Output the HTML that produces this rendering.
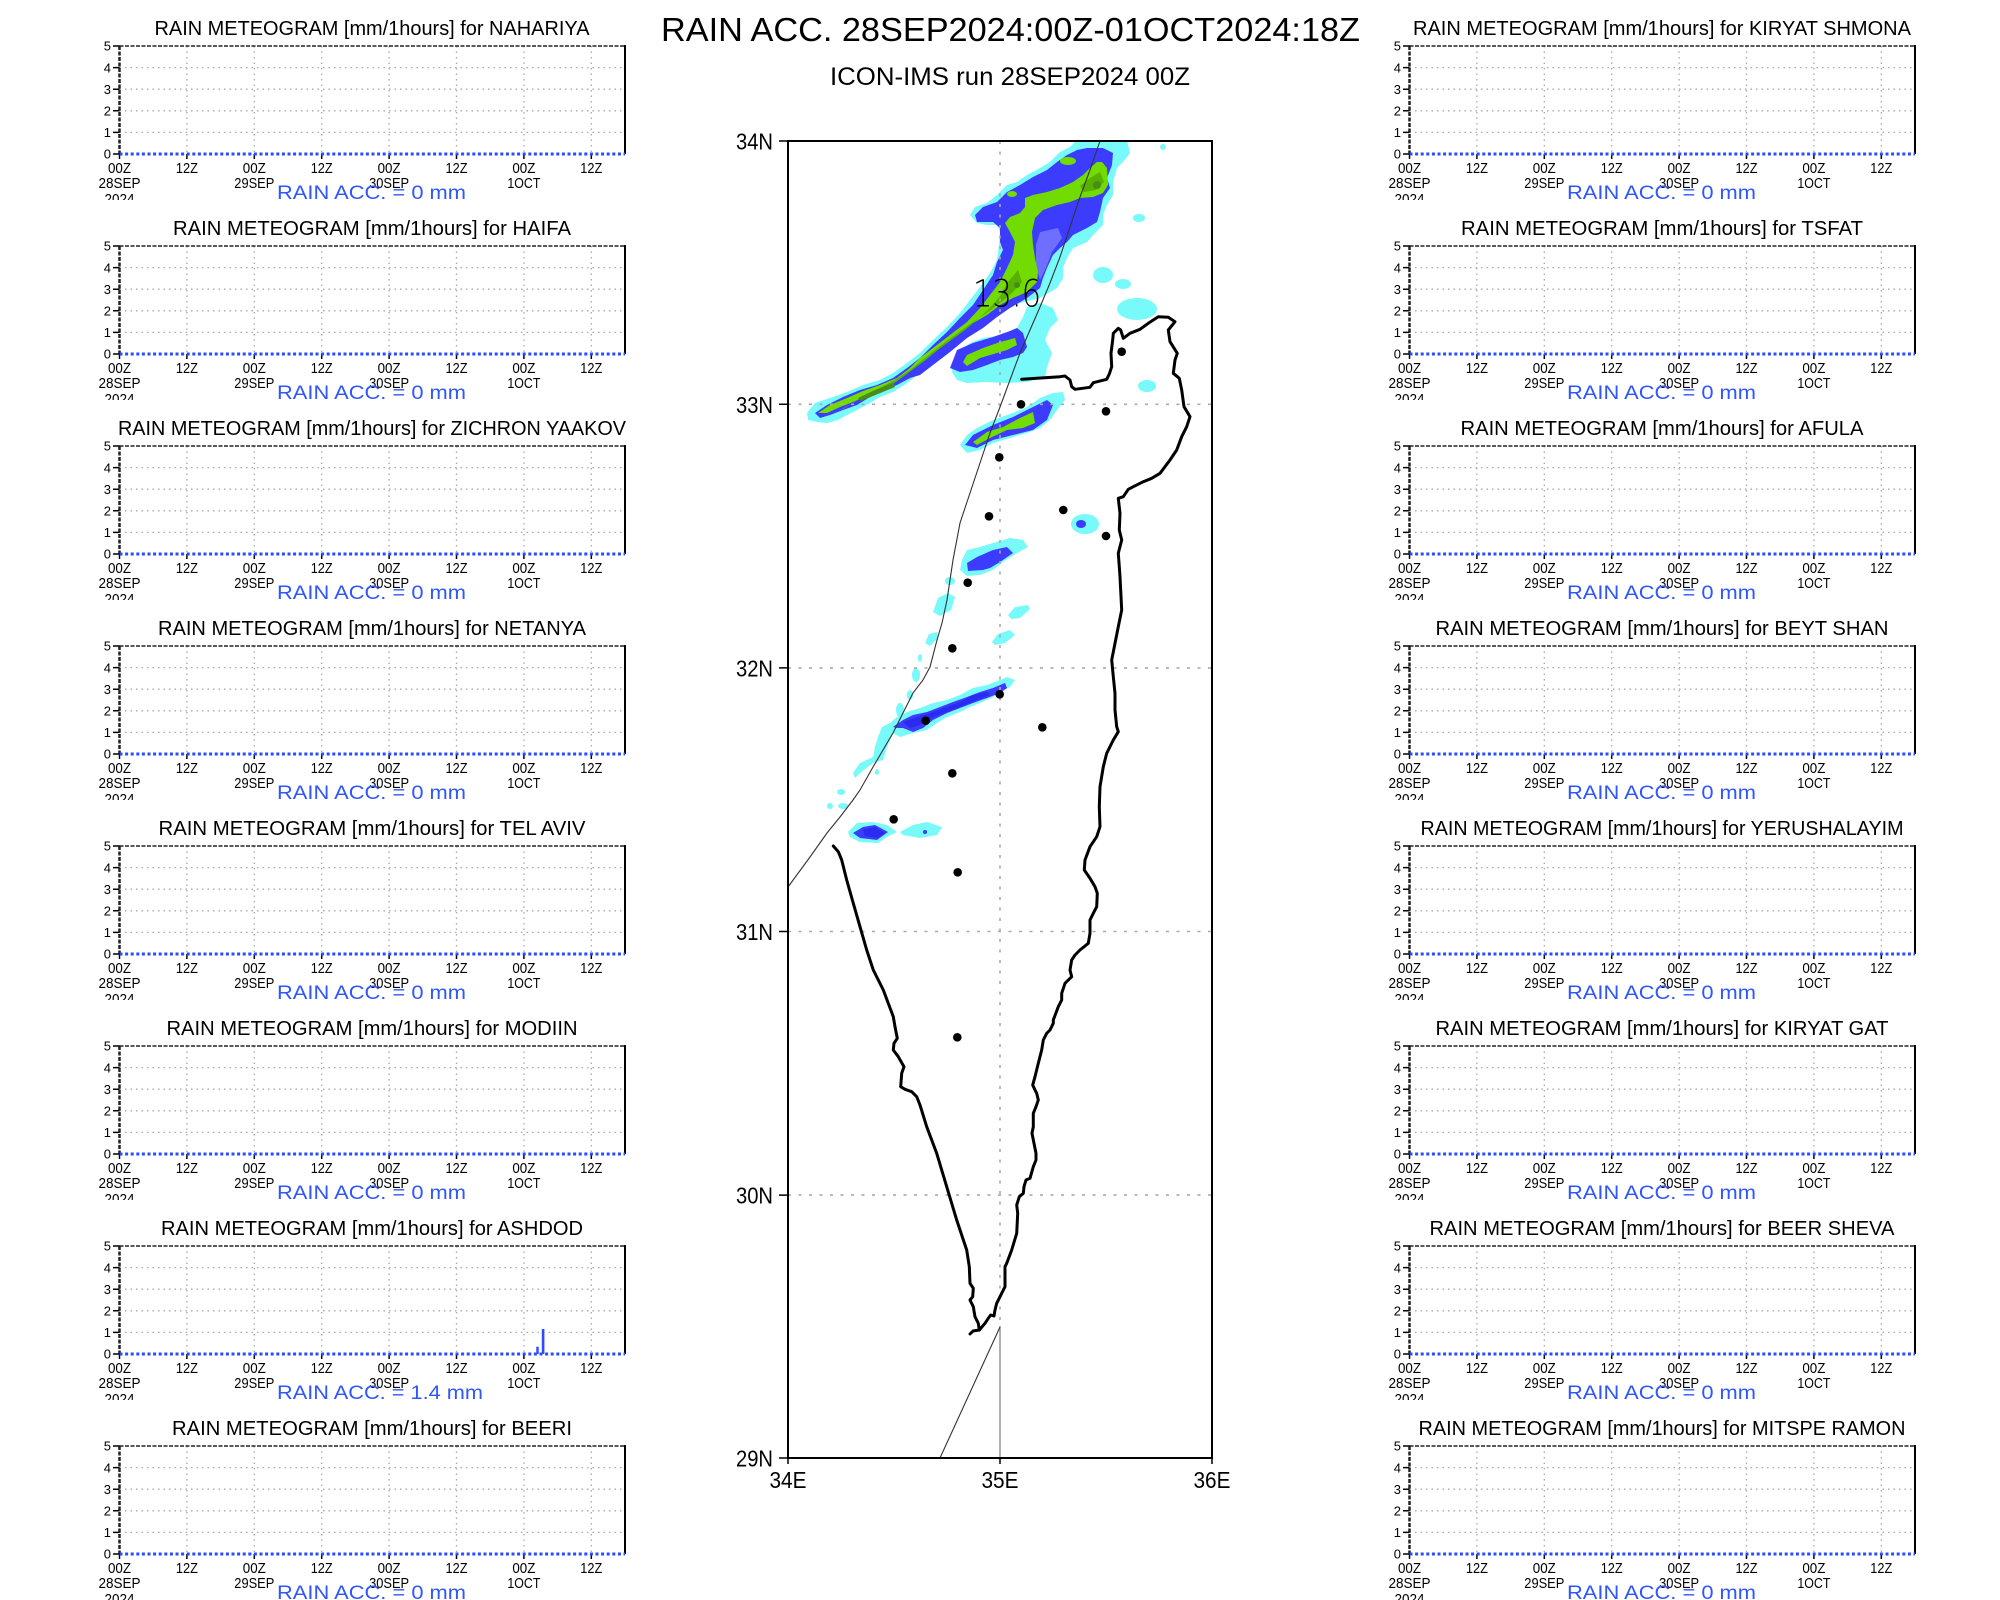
<!DOCTYPE html>
<html><head><meta charset="utf-8">
<style>
html,body{margin:0;padding:0;background:#fff;}
svg{display:block;}
text{font-family:"Liberation Sans",sans-serif;}
.tt{font-size:20px;text-anchor:middle;fill:#000;}
.yl{font-size:13px;text-anchor:end;fill:#000;}
.xl{font-size:15px;text-anchor:middle;fill:#000;}
.bl{font-size:19px;fill:#2f55ff;}
.ml{font-size:23px;fill:#000;}
</style></head><body>
<svg width="2000" height="1600" viewBox="0 0 2000 1600" xmlns="http://www.w3.org/2000/svg">
<defs>
<clipPath id="cp" clipPathUnits="userSpaceOnUse"><rect x="0" y="0" width="2000" height="200"/></clipPath>
<clipPath id="mapclip"><rect x="788" y="141" width="424" height="1317"/></clipPath>
<g id="pg">
 <g stroke="#aaa" stroke-width="1.3" stroke-dasharray="1.5,4" fill="none">
  <path d="M186.9 46V154M254.3 46V154M321.7 46V154M389.1 46V154M456.5 46V154M523.9 46V154M591.3 46V154"/>
  <path d="M119.5 132.4H625M119.5 110.8H625M119.5 89.2H625M119.5 67.6H625"/>
 </g>
 <path d="M119.5 46H625" stroke="#222" stroke-width="1.6" stroke-dasharray="4,1.5" fill="none"/>
 <path d="M119.5 46V154" stroke="#222" stroke-width="2.5" stroke-dasharray="4,1.5" fill="none"/>
 <path d="M625 45V154" stroke="#000" stroke-width="2" fill="none"/>
 <path d="M113 154H119.5M113 132.4H119.5M113 110.8H119.5M113 89.2H119.5M113 67.6H119.5M113 46H119.5" stroke="#000" stroke-width="1.5"/>
 <path d="M119.5 154V159M186.9 154V159M254.3 154V159M321.7 154V159M389.1 154V159M456.5 154V159M523.9 154V159M591.3 154V159" stroke="#000" stroke-width="1.5"/>
 <path d="M119.5 154H625" stroke="#2a4bff" stroke-width="3" stroke-dasharray="3,2.6" fill="none"/>
</g>
</defs>
<rect width="2000" height="1600" fill="#fff"/>

<!-- ================= LEFT PANELS ================= -->
<g transform="translate(0,0)">
<use href="#pg"/>
<text class="tt" x="372" y="35" textLength="435" lengthAdjust="spacingAndGlyphs">RAIN METEOGRAM [mm/1hours] for NAHARIYA</text>
<text class="yl" x="111" y="50.7">5</text><text class="yl" x="111" y="72.3">4</text><text class="yl" x="111" y="93.9">3</text><text class="yl" x="111" y="115.5">2</text><text class="yl" x="111" y="137.1">1</text><text class="yl" x="111" y="158.7">0</text>
<text class="xl" x="119.5" y="173" textLength="23" lengthAdjust="spacingAndGlyphs">00Z</text><text class="xl" x="186.9" y="173" textLength="22" lengthAdjust="spacingAndGlyphs">12Z</text><text class="xl" x="254.3" y="173" textLength="23" lengthAdjust="spacingAndGlyphs">00Z</text><text class="xl" x="321.7" y="173" textLength="22" lengthAdjust="spacingAndGlyphs">12Z</text><text class="xl" x="389.1" y="173" textLength="23" lengthAdjust="spacingAndGlyphs">00Z</text><text class="xl" x="456.5" y="173" textLength="22" lengthAdjust="spacingAndGlyphs">12Z</text><text class="xl" x="523.9" y="173" textLength="23" lengthAdjust="spacingAndGlyphs">00Z</text><text class="xl" x="591.3" y="173" textLength="22" lengthAdjust="spacingAndGlyphs">12Z</text>
<text class="xl" x="119.5" y="188" textLength="42" lengthAdjust="spacingAndGlyphs">28SEP</text><text class="xl" x="254.3" y="188" textLength="40" lengthAdjust="spacingAndGlyphs">29SEP</text><text class="xl" x="389.1" y="188" textLength="40" lengthAdjust="spacingAndGlyphs">30SEP</text><text class="xl" x="523.9" y="188" textLength="33" lengthAdjust="spacingAndGlyphs">1OCT</text>
<text class="xl" x="119.5" y="204" textLength="30" lengthAdjust="spacingAndGlyphs" clip-path="url(#cp)">2024</text>
<text class="bl" x="277" y="199" textLength="189" lengthAdjust="spacingAndGlyphs">RAIN ACC. = 0 mm</text>
</g>

<g transform="translate(0,200)">
<use href="#pg"/>
<text class="tt" x="372" y="35" textLength="398" lengthAdjust="spacingAndGlyphs">RAIN METEOGRAM [mm/1hours] for HAIFA</text>
<text class="yl" x="111" y="50.7">5</text><text class="yl" x="111" y="72.3">4</text><text class="yl" x="111" y="93.9">3</text><text class="yl" x="111" y="115.5">2</text><text class="yl" x="111" y="137.1">1</text><text class="yl" x="111" y="158.7">0</text>
<text class="xl" x="119.5" y="173" textLength="23" lengthAdjust="spacingAndGlyphs">00Z</text><text class="xl" x="186.9" y="173" textLength="22" lengthAdjust="spacingAndGlyphs">12Z</text><text class="xl" x="254.3" y="173" textLength="23" lengthAdjust="spacingAndGlyphs">00Z</text><text class="xl" x="321.7" y="173" textLength="22" lengthAdjust="spacingAndGlyphs">12Z</text><text class="xl" x="389.1" y="173" textLength="23" lengthAdjust="spacingAndGlyphs">00Z</text><text class="xl" x="456.5" y="173" textLength="22" lengthAdjust="spacingAndGlyphs">12Z</text><text class="xl" x="523.9" y="173" textLength="23" lengthAdjust="spacingAndGlyphs">00Z</text><text class="xl" x="591.3" y="173" textLength="22" lengthAdjust="spacingAndGlyphs">12Z</text>
<text class="xl" x="119.5" y="188" textLength="42" lengthAdjust="spacingAndGlyphs">28SEP</text><text class="xl" x="254.3" y="188" textLength="40" lengthAdjust="spacingAndGlyphs">29SEP</text><text class="xl" x="389.1" y="188" textLength="40" lengthAdjust="spacingAndGlyphs">30SEP</text><text class="xl" x="523.9" y="188" textLength="33" lengthAdjust="spacingAndGlyphs">1OCT</text>
<text class="xl" x="119.5" y="204" textLength="30" lengthAdjust="spacingAndGlyphs" clip-path="url(#cp)">2024</text>
<text class="bl" x="277" y="199" textLength="189" lengthAdjust="spacingAndGlyphs">RAIN ACC. = 0 mm</text>
</g>

<g transform="translate(0,400)">
<use href="#pg"/>
<text class="tt" x="372" y="35" textLength="508" lengthAdjust="spacingAndGlyphs">RAIN METEOGRAM [mm/1hours] for ZICHRON YAAKOV</text>
<text class="yl" x="111" y="50.7">5</text><text class="yl" x="111" y="72.3">4</text><text class="yl" x="111" y="93.9">3</text><text class="yl" x="111" y="115.5">2</text><text class="yl" x="111" y="137.1">1</text><text class="yl" x="111" y="158.7">0</text>
<text class="xl" x="119.5" y="173" textLength="23" lengthAdjust="spacingAndGlyphs">00Z</text><text class="xl" x="186.9" y="173" textLength="22" lengthAdjust="spacingAndGlyphs">12Z</text><text class="xl" x="254.3" y="173" textLength="23" lengthAdjust="spacingAndGlyphs">00Z</text><text class="xl" x="321.7" y="173" textLength="22" lengthAdjust="spacingAndGlyphs">12Z</text><text class="xl" x="389.1" y="173" textLength="23" lengthAdjust="spacingAndGlyphs">00Z</text><text class="xl" x="456.5" y="173" textLength="22" lengthAdjust="spacingAndGlyphs">12Z</text><text class="xl" x="523.9" y="173" textLength="23" lengthAdjust="spacingAndGlyphs">00Z</text><text class="xl" x="591.3" y="173" textLength="22" lengthAdjust="spacingAndGlyphs">12Z</text>
<text class="xl" x="119.5" y="188" textLength="42" lengthAdjust="spacingAndGlyphs">28SEP</text><text class="xl" x="254.3" y="188" textLength="40" lengthAdjust="spacingAndGlyphs">29SEP</text><text class="xl" x="389.1" y="188" textLength="40" lengthAdjust="spacingAndGlyphs">30SEP</text><text class="xl" x="523.9" y="188" textLength="33" lengthAdjust="spacingAndGlyphs">1OCT</text>
<text class="xl" x="119.5" y="204" textLength="30" lengthAdjust="spacingAndGlyphs" clip-path="url(#cp)">2024</text>
<text class="bl" x="277" y="199" textLength="189" lengthAdjust="spacingAndGlyphs">RAIN ACC. = 0 mm</text>
</g>

<g transform="translate(0,600)">
<use href="#pg"/>
<text class="tt" x="372" y="35" textLength="428" lengthAdjust="spacingAndGlyphs">RAIN METEOGRAM [mm/1hours] for NETANYA</text>
<text class="yl" x="111" y="50.7">5</text><text class="yl" x="111" y="72.3">4</text><text class="yl" x="111" y="93.9">3</text><text class="yl" x="111" y="115.5">2</text><text class="yl" x="111" y="137.1">1</text><text class="yl" x="111" y="158.7">0</text>
<text class="xl" x="119.5" y="173" textLength="23" lengthAdjust="spacingAndGlyphs">00Z</text><text class="xl" x="186.9" y="173" textLength="22" lengthAdjust="spacingAndGlyphs">12Z</text><text class="xl" x="254.3" y="173" textLength="23" lengthAdjust="spacingAndGlyphs">00Z</text><text class="xl" x="321.7" y="173" textLength="22" lengthAdjust="spacingAndGlyphs">12Z</text><text class="xl" x="389.1" y="173" textLength="23" lengthAdjust="spacingAndGlyphs">00Z</text><text class="xl" x="456.5" y="173" textLength="22" lengthAdjust="spacingAndGlyphs">12Z</text><text class="xl" x="523.9" y="173" textLength="23" lengthAdjust="spacingAndGlyphs">00Z</text><text class="xl" x="591.3" y="173" textLength="22" lengthAdjust="spacingAndGlyphs">12Z</text>
<text class="xl" x="119.5" y="188" textLength="42" lengthAdjust="spacingAndGlyphs">28SEP</text><text class="xl" x="254.3" y="188" textLength="40" lengthAdjust="spacingAndGlyphs">29SEP</text><text class="xl" x="389.1" y="188" textLength="40" lengthAdjust="spacingAndGlyphs">30SEP</text><text class="xl" x="523.9" y="188" textLength="33" lengthAdjust="spacingAndGlyphs">1OCT</text>
<text class="xl" x="119.5" y="204" textLength="30" lengthAdjust="spacingAndGlyphs" clip-path="url(#cp)">2024</text>
<text class="bl" x="277" y="199" textLength="189" lengthAdjust="spacingAndGlyphs">RAIN ACC. = 0 mm</text>
</g>

<g transform="translate(0,800)">
<use href="#pg"/>
<text class="tt" x="372" y="35" textLength="427" lengthAdjust="spacingAndGlyphs">RAIN METEOGRAM [mm/1hours] for TEL AVIV</text>
<text class="yl" x="111" y="50.7">5</text><text class="yl" x="111" y="72.3">4</text><text class="yl" x="111" y="93.9">3</text><text class="yl" x="111" y="115.5">2</text><text class="yl" x="111" y="137.1">1</text><text class="yl" x="111" y="158.7">0</text>
<text class="xl" x="119.5" y="173" textLength="23" lengthAdjust="spacingAndGlyphs">00Z</text><text class="xl" x="186.9" y="173" textLength="22" lengthAdjust="spacingAndGlyphs">12Z</text><text class="xl" x="254.3" y="173" textLength="23" lengthAdjust="spacingAndGlyphs">00Z</text><text class="xl" x="321.7" y="173" textLength="22" lengthAdjust="spacingAndGlyphs">12Z</text><text class="xl" x="389.1" y="173" textLength="23" lengthAdjust="spacingAndGlyphs">00Z</text><text class="xl" x="456.5" y="173" textLength="22" lengthAdjust="spacingAndGlyphs">12Z</text><text class="xl" x="523.9" y="173" textLength="23" lengthAdjust="spacingAndGlyphs">00Z</text><text class="xl" x="591.3" y="173" textLength="22" lengthAdjust="spacingAndGlyphs">12Z</text>
<text class="xl" x="119.5" y="188" textLength="42" lengthAdjust="spacingAndGlyphs">28SEP</text><text class="xl" x="254.3" y="188" textLength="40" lengthAdjust="spacingAndGlyphs">29SEP</text><text class="xl" x="389.1" y="188" textLength="40" lengthAdjust="spacingAndGlyphs">30SEP</text><text class="xl" x="523.9" y="188" textLength="33" lengthAdjust="spacingAndGlyphs">1OCT</text>
<text class="xl" x="119.5" y="204" textLength="30" lengthAdjust="spacingAndGlyphs" clip-path="url(#cp)">2024</text>
<text class="bl" x="277" y="199" textLength="189" lengthAdjust="spacingAndGlyphs">RAIN ACC. = 0 mm</text>
</g>

<g transform="translate(0,1000)">
<use href="#pg"/>
<text class="tt" x="372" y="35" textLength="411" lengthAdjust="spacingAndGlyphs">RAIN METEOGRAM [mm/1hours] for MODIIN</text>
<text class="yl" x="111" y="50.7">5</text><text class="yl" x="111" y="72.3">4</text><text class="yl" x="111" y="93.9">3</text><text class="yl" x="111" y="115.5">2</text><text class="yl" x="111" y="137.1">1</text><text class="yl" x="111" y="158.7">0</text>
<text class="xl" x="119.5" y="173" textLength="23" lengthAdjust="spacingAndGlyphs">00Z</text><text class="xl" x="186.9" y="173" textLength="22" lengthAdjust="spacingAndGlyphs">12Z</text><text class="xl" x="254.3" y="173" textLength="23" lengthAdjust="spacingAndGlyphs">00Z</text><text class="xl" x="321.7" y="173" textLength="22" lengthAdjust="spacingAndGlyphs">12Z</text><text class="xl" x="389.1" y="173" textLength="23" lengthAdjust="spacingAndGlyphs">00Z</text><text class="xl" x="456.5" y="173" textLength="22" lengthAdjust="spacingAndGlyphs">12Z</text><text class="xl" x="523.9" y="173" textLength="23" lengthAdjust="spacingAndGlyphs">00Z</text><text class="xl" x="591.3" y="173" textLength="22" lengthAdjust="spacingAndGlyphs">12Z</text>
<text class="xl" x="119.5" y="188" textLength="42" lengthAdjust="spacingAndGlyphs">28SEP</text><text class="xl" x="254.3" y="188" textLength="40" lengthAdjust="spacingAndGlyphs">29SEP</text><text class="xl" x="389.1" y="188" textLength="40" lengthAdjust="spacingAndGlyphs">30SEP</text><text class="xl" x="523.9" y="188" textLength="33" lengthAdjust="spacingAndGlyphs">1OCT</text>
<text class="xl" x="119.5" y="204" textLength="30" lengthAdjust="spacingAndGlyphs" clip-path="url(#cp)">2024</text>
<text class="bl" x="277" y="199" textLength="189" lengthAdjust="spacingAndGlyphs">RAIN ACC. = 0 mm</text>
</g>

<g transform="translate(0,1200)">
<use href="#pg"/>
<rect x="536.3" y="146.7" width="2.4" height="7.3" fill="#2a4bff"/>
<rect x="541.8" y="129" width="2.6" height="25" fill="#2a4bff"/>
<text class="tt" x="372" y="35" textLength="422" lengthAdjust="spacingAndGlyphs">RAIN METEOGRAM [mm/1hours] for ASHDOD</text>
<text class="yl" x="111" y="50.7">5</text><text class="yl" x="111" y="72.3">4</text><text class="yl" x="111" y="93.9">3</text><text class="yl" x="111" y="115.5">2</text><text class="yl" x="111" y="137.1">1</text><text class="yl" x="111" y="158.7">0</text>
<text class="xl" x="119.5" y="173" textLength="23" lengthAdjust="spacingAndGlyphs">00Z</text><text class="xl" x="186.9" y="173" textLength="22" lengthAdjust="spacingAndGlyphs">12Z</text><text class="xl" x="254.3" y="173" textLength="23" lengthAdjust="spacingAndGlyphs">00Z</text><text class="xl" x="321.7" y="173" textLength="22" lengthAdjust="spacingAndGlyphs">12Z</text><text class="xl" x="389.1" y="173" textLength="23" lengthAdjust="spacingAndGlyphs">00Z</text><text class="xl" x="456.5" y="173" textLength="22" lengthAdjust="spacingAndGlyphs">12Z</text><text class="xl" x="523.9" y="173" textLength="23" lengthAdjust="spacingAndGlyphs">00Z</text><text class="xl" x="591.3" y="173" textLength="22" lengthAdjust="spacingAndGlyphs">12Z</text>
<text class="xl" x="119.5" y="188" textLength="42" lengthAdjust="spacingAndGlyphs">28SEP</text><text class="xl" x="254.3" y="188" textLength="40" lengthAdjust="spacingAndGlyphs">29SEP</text><text class="xl" x="389.1" y="188" textLength="40" lengthAdjust="spacingAndGlyphs">30SEP</text><text class="xl" x="523.9" y="188" textLength="33" lengthAdjust="spacingAndGlyphs">1OCT</text>
<text class="xl" x="119.5" y="204" textLength="30" lengthAdjust="spacingAndGlyphs" clip-path="url(#cp)">2024</text>
<text class="bl" x="277" y="199" textLength="206" lengthAdjust="spacingAndGlyphs">RAIN ACC. = 1.4 mm</text>
</g>

<g transform="translate(0,1400)">
<use href="#pg"/>
<text class="tt" x="372" y="35" textLength="400" lengthAdjust="spacingAndGlyphs">RAIN METEOGRAM [mm/1hours] for BEERI</text>
<text class="yl" x="111" y="50.7">5</text><text class="yl" x="111" y="72.3">4</text><text class="yl" x="111" y="93.9">3</text><text class="yl" x="111" y="115.5">2</text><text class="yl" x="111" y="137.1">1</text><text class="yl" x="111" y="158.7">0</text>
<text class="xl" x="119.5" y="173" textLength="23" lengthAdjust="spacingAndGlyphs">00Z</text><text class="xl" x="186.9" y="173" textLength="22" lengthAdjust="spacingAndGlyphs">12Z</text><text class="xl" x="254.3" y="173" textLength="23" lengthAdjust="spacingAndGlyphs">00Z</text><text class="xl" x="321.7" y="173" textLength="22" lengthAdjust="spacingAndGlyphs">12Z</text><text class="xl" x="389.1" y="173" textLength="23" lengthAdjust="spacingAndGlyphs">00Z</text><text class="xl" x="456.5" y="173" textLength="22" lengthAdjust="spacingAndGlyphs">12Z</text><text class="xl" x="523.9" y="173" textLength="23" lengthAdjust="spacingAndGlyphs">00Z</text><text class="xl" x="591.3" y="173" textLength="22" lengthAdjust="spacingAndGlyphs">12Z</text>
<text class="xl" x="119.5" y="188" textLength="42" lengthAdjust="spacingAndGlyphs">28SEP</text><text class="xl" x="254.3" y="188" textLength="40" lengthAdjust="spacingAndGlyphs">29SEP</text><text class="xl" x="389.1" y="188" textLength="40" lengthAdjust="spacingAndGlyphs">30SEP</text><text class="xl" x="523.9" y="188" textLength="33" lengthAdjust="spacingAndGlyphs">1OCT</text>
<text class="xl" x="119.5" y="204" textLength="30" lengthAdjust="spacingAndGlyphs" clip-path="url(#cp)">2024</text>
<text class="bl" x="277" y="199" textLength="189" lengthAdjust="spacingAndGlyphs">RAIN ACC. = 0 mm</text>
</g>

<!-- ================= RIGHT PANELS ================= -->
<g transform="translate(1290,0)">
<use href="#pg"/>
<text class="tt" x="372" y="35" textLength="498" lengthAdjust="spacingAndGlyphs">RAIN METEOGRAM [mm/1hours] for KIRYAT SHMONA</text>
<text class="yl" x="111" y="50.7">5</text><text class="yl" x="111" y="72.3">4</text><text class="yl" x="111" y="93.9">3</text><text class="yl" x="111" y="115.5">2</text><text class="yl" x="111" y="137.1">1</text><text class="yl" x="111" y="158.7">0</text>
<text class="xl" x="119.5" y="173" textLength="23" lengthAdjust="spacingAndGlyphs">00Z</text><text class="xl" x="186.9" y="173" textLength="22" lengthAdjust="spacingAndGlyphs">12Z</text><text class="xl" x="254.3" y="173" textLength="23" lengthAdjust="spacingAndGlyphs">00Z</text><text class="xl" x="321.7" y="173" textLength="22" lengthAdjust="spacingAndGlyphs">12Z</text><text class="xl" x="389.1" y="173" textLength="23" lengthAdjust="spacingAndGlyphs">00Z</text><text class="xl" x="456.5" y="173" textLength="22" lengthAdjust="spacingAndGlyphs">12Z</text><text class="xl" x="523.9" y="173" textLength="23" lengthAdjust="spacingAndGlyphs">00Z</text><text class="xl" x="591.3" y="173" textLength="22" lengthAdjust="spacingAndGlyphs">12Z</text>
<text class="xl" x="119.5" y="188" textLength="42" lengthAdjust="spacingAndGlyphs">28SEP</text><text class="xl" x="254.3" y="188" textLength="40" lengthAdjust="spacingAndGlyphs">29SEP</text><text class="xl" x="389.1" y="188" textLength="40" lengthAdjust="spacingAndGlyphs">30SEP</text><text class="xl" x="523.9" y="188" textLength="33" lengthAdjust="spacingAndGlyphs">1OCT</text>
<text class="xl" x="119.5" y="204" textLength="30" lengthAdjust="spacingAndGlyphs" clip-path="url(#cp)">2024</text>
<text class="bl" x="277" y="199" textLength="189" lengthAdjust="spacingAndGlyphs">RAIN ACC. = 0 mm</text>
</g>

<g transform="translate(1290,200)">
<use href="#pg"/>
<text class="tt" x="372" y="35" textLength="402" lengthAdjust="spacingAndGlyphs">RAIN METEOGRAM [mm/1hours] for TSFAT</text>
<text class="yl" x="111" y="50.7">5</text><text class="yl" x="111" y="72.3">4</text><text class="yl" x="111" y="93.9">3</text><text class="yl" x="111" y="115.5">2</text><text class="yl" x="111" y="137.1">1</text><text class="yl" x="111" y="158.7">0</text>
<text class="xl" x="119.5" y="173" textLength="23" lengthAdjust="spacingAndGlyphs">00Z</text><text class="xl" x="186.9" y="173" textLength="22" lengthAdjust="spacingAndGlyphs">12Z</text><text class="xl" x="254.3" y="173" textLength="23" lengthAdjust="spacingAndGlyphs">00Z</text><text class="xl" x="321.7" y="173" textLength="22" lengthAdjust="spacingAndGlyphs">12Z</text><text class="xl" x="389.1" y="173" textLength="23" lengthAdjust="spacingAndGlyphs">00Z</text><text class="xl" x="456.5" y="173" textLength="22" lengthAdjust="spacingAndGlyphs">12Z</text><text class="xl" x="523.9" y="173" textLength="23" lengthAdjust="spacingAndGlyphs">00Z</text><text class="xl" x="591.3" y="173" textLength="22" lengthAdjust="spacingAndGlyphs">12Z</text>
<text class="xl" x="119.5" y="188" textLength="42" lengthAdjust="spacingAndGlyphs">28SEP</text><text class="xl" x="254.3" y="188" textLength="40" lengthAdjust="spacingAndGlyphs">29SEP</text><text class="xl" x="389.1" y="188" textLength="40" lengthAdjust="spacingAndGlyphs">30SEP</text><text class="xl" x="523.9" y="188" textLength="33" lengthAdjust="spacingAndGlyphs">1OCT</text>
<text class="xl" x="119.5" y="204" textLength="30" lengthAdjust="spacingAndGlyphs" clip-path="url(#cp)">2024</text>
<text class="bl" x="277" y="199" textLength="189" lengthAdjust="spacingAndGlyphs">RAIN ACC. = 0 mm</text>
</g>

<g transform="translate(1290,400)">
<use href="#pg"/>
<text class="tt" x="372" y="35" textLength="403" lengthAdjust="spacingAndGlyphs">RAIN METEOGRAM [mm/1hours] for AFULA</text>
<text class="yl" x="111" y="50.7">5</text><text class="yl" x="111" y="72.3">4</text><text class="yl" x="111" y="93.9">3</text><text class="yl" x="111" y="115.5">2</text><text class="yl" x="111" y="137.1">1</text><text class="yl" x="111" y="158.7">0</text>
<text class="xl" x="119.5" y="173" textLength="23" lengthAdjust="spacingAndGlyphs">00Z</text><text class="xl" x="186.9" y="173" textLength="22" lengthAdjust="spacingAndGlyphs">12Z</text><text class="xl" x="254.3" y="173" textLength="23" lengthAdjust="spacingAndGlyphs">00Z</text><text class="xl" x="321.7" y="173" textLength="22" lengthAdjust="spacingAndGlyphs">12Z</text><text class="xl" x="389.1" y="173" textLength="23" lengthAdjust="spacingAndGlyphs">00Z</text><text class="xl" x="456.5" y="173" textLength="22" lengthAdjust="spacingAndGlyphs">12Z</text><text class="xl" x="523.9" y="173" textLength="23" lengthAdjust="spacingAndGlyphs">00Z</text><text class="xl" x="591.3" y="173" textLength="22" lengthAdjust="spacingAndGlyphs">12Z</text>
<text class="xl" x="119.5" y="188" textLength="42" lengthAdjust="spacingAndGlyphs">28SEP</text><text class="xl" x="254.3" y="188" textLength="40" lengthAdjust="spacingAndGlyphs">29SEP</text><text class="xl" x="389.1" y="188" textLength="40" lengthAdjust="spacingAndGlyphs">30SEP</text><text class="xl" x="523.9" y="188" textLength="33" lengthAdjust="spacingAndGlyphs">1OCT</text>
<text class="xl" x="119.5" y="204" textLength="30" lengthAdjust="spacingAndGlyphs" clip-path="url(#cp)">2024</text>
<text class="bl" x="277" y="199" textLength="189" lengthAdjust="spacingAndGlyphs">RAIN ACC. = 0 mm</text>
</g>

<g transform="translate(1290,600)">
<use href="#pg"/>
<text class="tt" x="372" y="35" textLength="453" lengthAdjust="spacingAndGlyphs">RAIN METEOGRAM [mm/1hours] for BEYT SHAN</text>
<text class="yl" x="111" y="50.7">5</text><text class="yl" x="111" y="72.3">4</text><text class="yl" x="111" y="93.9">3</text><text class="yl" x="111" y="115.5">2</text><text class="yl" x="111" y="137.1">1</text><text class="yl" x="111" y="158.7">0</text>
<text class="xl" x="119.5" y="173" textLength="23" lengthAdjust="spacingAndGlyphs">00Z</text><text class="xl" x="186.9" y="173" textLength="22" lengthAdjust="spacingAndGlyphs">12Z</text><text class="xl" x="254.3" y="173" textLength="23" lengthAdjust="spacingAndGlyphs">00Z</text><text class="xl" x="321.7" y="173" textLength="22" lengthAdjust="spacingAndGlyphs">12Z</text><text class="xl" x="389.1" y="173" textLength="23" lengthAdjust="spacingAndGlyphs">00Z</text><text class="xl" x="456.5" y="173" textLength="22" lengthAdjust="spacingAndGlyphs">12Z</text><text class="xl" x="523.9" y="173" textLength="23" lengthAdjust="spacingAndGlyphs">00Z</text><text class="xl" x="591.3" y="173" textLength="22" lengthAdjust="spacingAndGlyphs">12Z</text>
<text class="xl" x="119.5" y="188" textLength="42" lengthAdjust="spacingAndGlyphs">28SEP</text><text class="xl" x="254.3" y="188" textLength="40" lengthAdjust="spacingAndGlyphs">29SEP</text><text class="xl" x="389.1" y="188" textLength="40" lengthAdjust="spacingAndGlyphs">30SEP</text><text class="xl" x="523.9" y="188" textLength="33" lengthAdjust="spacingAndGlyphs">1OCT</text>
<text class="xl" x="119.5" y="204" textLength="30" lengthAdjust="spacingAndGlyphs" clip-path="url(#cp)">2024</text>
<text class="bl" x="277" y="199" textLength="189" lengthAdjust="spacingAndGlyphs">RAIN ACC. = 0 mm</text>
</g>

<g transform="translate(1290,800)">
<use href="#pg"/>
<text class="tt" x="372" y="35" textLength="483" lengthAdjust="spacingAndGlyphs">RAIN METEOGRAM [mm/1hours] for YERUSHALAYIM</text>
<text class="yl" x="111" y="50.7">5</text><text class="yl" x="111" y="72.3">4</text><text class="yl" x="111" y="93.9">3</text><text class="yl" x="111" y="115.5">2</text><text class="yl" x="111" y="137.1">1</text><text class="yl" x="111" y="158.7">0</text>
<text class="xl" x="119.5" y="173" textLength="23" lengthAdjust="spacingAndGlyphs">00Z</text><text class="xl" x="186.9" y="173" textLength="22" lengthAdjust="spacingAndGlyphs">12Z</text><text class="xl" x="254.3" y="173" textLength="23" lengthAdjust="spacingAndGlyphs">00Z</text><text class="xl" x="321.7" y="173" textLength="22" lengthAdjust="spacingAndGlyphs">12Z</text><text class="xl" x="389.1" y="173" textLength="23" lengthAdjust="spacingAndGlyphs">00Z</text><text class="xl" x="456.5" y="173" textLength="22" lengthAdjust="spacingAndGlyphs">12Z</text><text class="xl" x="523.9" y="173" textLength="23" lengthAdjust="spacingAndGlyphs">00Z</text><text class="xl" x="591.3" y="173" textLength="22" lengthAdjust="spacingAndGlyphs">12Z</text>
<text class="xl" x="119.5" y="188" textLength="42" lengthAdjust="spacingAndGlyphs">28SEP</text><text class="xl" x="254.3" y="188" textLength="40" lengthAdjust="spacingAndGlyphs">29SEP</text><text class="xl" x="389.1" y="188" textLength="40" lengthAdjust="spacingAndGlyphs">30SEP</text><text class="xl" x="523.9" y="188" textLength="33" lengthAdjust="spacingAndGlyphs">1OCT</text>
<text class="xl" x="119.5" y="204" textLength="30" lengthAdjust="spacingAndGlyphs" clip-path="url(#cp)">2024</text>
<text class="bl" x="277" y="199" textLength="189" lengthAdjust="spacingAndGlyphs">RAIN ACC. = 0 mm</text>
</g>

<g transform="translate(1290,1000)">
<use href="#pg"/>
<text class="tt" x="372" y="35" textLength="453" lengthAdjust="spacingAndGlyphs">RAIN METEOGRAM [mm/1hours] for KIRYAT GAT</text>
<text class="yl" x="111" y="50.7">5</text><text class="yl" x="111" y="72.3">4</text><text class="yl" x="111" y="93.9">3</text><text class="yl" x="111" y="115.5">2</text><text class="yl" x="111" y="137.1">1</text><text class="yl" x="111" y="158.7">0</text>
<text class="xl" x="119.5" y="173" textLength="23" lengthAdjust="spacingAndGlyphs">00Z</text><text class="xl" x="186.9" y="173" textLength="22" lengthAdjust="spacingAndGlyphs">12Z</text><text class="xl" x="254.3" y="173" textLength="23" lengthAdjust="spacingAndGlyphs">00Z</text><text class="xl" x="321.7" y="173" textLength="22" lengthAdjust="spacingAndGlyphs">12Z</text><text class="xl" x="389.1" y="173" textLength="23" lengthAdjust="spacingAndGlyphs">00Z</text><text class="xl" x="456.5" y="173" textLength="22" lengthAdjust="spacingAndGlyphs">12Z</text><text class="xl" x="523.9" y="173" textLength="23" lengthAdjust="spacingAndGlyphs">00Z</text><text class="xl" x="591.3" y="173" textLength="22" lengthAdjust="spacingAndGlyphs">12Z</text>
<text class="xl" x="119.5" y="188" textLength="42" lengthAdjust="spacingAndGlyphs">28SEP</text><text class="xl" x="254.3" y="188" textLength="40" lengthAdjust="spacingAndGlyphs">29SEP</text><text class="xl" x="389.1" y="188" textLength="40" lengthAdjust="spacingAndGlyphs">30SEP</text><text class="xl" x="523.9" y="188" textLength="33" lengthAdjust="spacingAndGlyphs">1OCT</text>
<text class="xl" x="119.5" y="204" textLength="30" lengthAdjust="spacingAndGlyphs" clip-path="url(#cp)">2024</text>
<text class="bl" x="277" y="199" textLength="189" lengthAdjust="spacingAndGlyphs">RAIN ACC. = 0 mm</text>
</g>

<g transform="translate(1290,1200)">
<use href="#pg"/>
<text class="tt" x="372" y="35" textLength="465" lengthAdjust="spacingAndGlyphs">RAIN METEOGRAM [mm/1hours] for BEER SHEVA</text>
<text class="yl" x="111" y="50.7">5</text><text class="yl" x="111" y="72.3">4</text><text class="yl" x="111" y="93.9">3</text><text class="yl" x="111" y="115.5">2</text><text class="yl" x="111" y="137.1">1</text><text class="yl" x="111" y="158.7">0</text>
<text class="xl" x="119.5" y="173" textLength="23" lengthAdjust="spacingAndGlyphs">00Z</text><text class="xl" x="186.9" y="173" textLength="22" lengthAdjust="spacingAndGlyphs">12Z</text><text class="xl" x="254.3" y="173" textLength="23" lengthAdjust="spacingAndGlyphs">00Z</text><text class="xl" x="321.7" y="173" textLength="22" lengthAdjust="spacingAndGlyphs">12Z</text><text class="xl" x="389.1" y="173" textLength="23" lengthAdjust="spacingAndGlyphs">00Z</text><text class="xl" x="456.5" y="173" textLength="22" lengthAdjust="spacingAndGlyphs">12Z</text><text class="xl" x="523.9" y="173" textLength="23" lengthAdjust="spacingAndGlyphs">00Z</text><text class="xl" x="591.3" y="173" textLength="22" lengthAdjust="spacingAndGlyphs">12Z</text>
<text class="xl" x="119.5" y="188" textLength="42" lengthAdjust="spacingAndGlyphs">28SEP</text><text class="xl" x="254.3" y="188" textLength="40" lengthAdjust="spacingAndGlyphs">29SEP</text><text class="xl" x="389.1" y="188" textLength="40" lengthAdjust="spacingAndGlyphs">30SEP</text><text class="xl" x="523.9" y="188" textLength="33" lengthAdjust="spacingAndGlyphs">1OCT</text>
<text class="xl" x="119.5" y="204" textLength="30" lengthAdjust="spacingAndGlyphs" clip-path="url(#cp)">2024</text>
<text class="bl" x="277" y="199" textLength="189" lengthAdjust="spacingAndGlyphs">RAIN ACC. = 0 mm</text>
</g>

<g transform="translate(1290,1400)">
<use href="#pg"/>
<text class="tt" x="372" y="35" textLength="487" lengthAdjust="spacingAndGlyphs">RAIN METEOGRAM [mm/1hours] for MITSPE RAMON</text>
<text class="yl" x="111" y="50.7">5</text><text class="yl" x="111" y="72.3">4</text><text class="yl" x="111" y="93.9">3</text><text class="yl" x="111" y="115.5">2</text><text class="yl" x="111" y="137.1">1</text><text class="yl" x="111" y="158.7">0</text>
<text class="xl" x="119.5" y="173" textLength="23" lengthAdjust="spacingAndGlyphs">00Z</text><text class="xl" x="186.9" y="173" textLength="22" lengthAdjust="spacingAndGlyphs">12Z</text><text class="xl" x="254.3" y="173" textLength="23" lengthAdjust="spacingAndGlyphs">00Z</text><text class="xl" x="321.7" y="173" textLength="22" lengthAdjust="spacingAndGlyphs">12Z</text><text class="xl" x="389.1" y="173" textLength="23" lengthAdjust="spacingAndGlyphs">00Z</text><text class="xl" x="456.5" y="173" textLength="22" lengthAdjust="spacingAndGlyphs">12Z</text><text class="xl" x="523.9" y="173" textLength="23" lengthAdjust="spacingAndGlyphs">00Z</text><text class="xl" x="591.3" y="173" textLength="22" lengthAdjust="spacingAndGlyphs">12Z</text>
<text class="xl" x="119.5" y="188" textLength="42" lengthAdjust="spacingAndGlyphs">28SEP</text><text class="xl" x="254.3" y="188" textLength="40" lengthAdjust="spacingAndGlyphs">29SEP</text><text class="xl" x="389.1" y="188" textLength="40" lengthAdjust="spacingAndGlyphs">30SEP</text><text class="xl" x="523.9" y="188" textLength="33" lengthAdjust="spacingAndGlyphs">1OCT</text>
<text class="xl" x="119.5" y="204" textLength="30" lengthAdjust="spacingAndGlyphs" clip-path="url(#cp)">2024</text>
<text class="bl" x="277" y="199" textLength="189" lengthAdjust="spacingAndGlyphs">RAIN ACC. = 0 mm</text>
</g>

<!-- ================= MAP ================= -->
<text x="661" y="41" font-size="33" textLength="699" lengthAdjust="spacingAndGlyphs" fill="#000">RAIN ACC. 28SEP2024:00Z-01OCT2024:18Z</text>
<text x="830" y="85" font-size="25" textLength="360" lengthAdjust="spacingAndGlyphs" fill="#000">ICON-IMS run 28SEP2024 00Z</text>

<g clip-path="url(#mapclip)">
 <!-- cyan layer -->
 <g fill="#78fafa">
  <polygon points="807,413 815,403 830,398 847,392 863,385 880,380 893,373 907,363 920,353 933,340 947,327 960,313 970,300 980,287 990,273 997,260 999,245 1000,232 997,225 987,225 977,223 970,215 975,207 987,203 997,195 1007,185 1017,182 1027,175 1040,168 1050,162 1060,152 1070,147 1077,140 1127,140 1130,153 1123,162 1117,168 1113,182 1113,195 1107,205 1103,215 1103,225 1093,235 1087,242 1073,248 1067,258 1063,268 1063,278 1057,288 1040,298 1020,303 1007,307 993,310 980,317 970,327 960,337 947,350 933,360 920,373 907,383 893,392 880,397 870,403 857,410 847,415 838,420 827,423 817,422 808,420"/>
  <polygon points="952,372 953,360 960,350 970,343 983,338 997,336 1010,333 1017,328 1023,317 1027,307 1040,303 1053,308 1058,320 1050,328 1045,340 1052,353 1047,367 1045,377 1027,382 1007,383 987,382 967,383 957,380"/>
  <polygon points="960,445 967,435 977,428 993,420 1013,413 1027,407 1040,398 1053,393 1063,392 1065,400 1057,410 1050,420 1040,428 1027,433 1010,438 993,443 980,450 967,453"/>
  <ellipse cx="1085" cy="524" rx="14" ry="10"/>
  <polygon points="962,560 967,550 980,547 993,543 1010,538 1023,540 1028,547 1017,553 1003,562 993,570 980,575 967,576 960,570"/>
  <ellipse cx="1103" cy="275" rx="10" ry="8"/>
  <ellipse cx="1123" cy="284" rx="8" ry="5"/>
  <ellipse cx="1137" cy="309" rx="20" ry="11"/>
  <ellipse cx="1139" cy="218" rx="6" ry="4"/>
  <ellipse cx="1163" cy="147" rx="3" ry="3"/>
  <ellipse cx="1147" cy="386" rx="9" ry="6"/>
  <ellipse cx="950" cy="581" rx="5" ry="4"/>
  <polygon points="933,612 938,598 948,593 955,597 951,610 940,616"/>
  <polygon points="925,643 929,634 937,632 938,638 930,646"/>
  <polygon points="1008,615 1015,607 1028,605 1030,609 1020,618 1011,619"/>
  <polygon points="992,642 998,634 1010,630 1015,635 1005,643 995,645"/>
  <ellipse cx="920" cy="658" rx="2" ry="4"/>
  <ellipse cx="916" cy="675" rx="4" ry="7"/>
  <ellipse cx="910" cy="695" rx="3" ry="5"/>
  <ellipse cx="900" cy="710" rx="4" ry="7"/>
  <polygon points="853,773 860,763 873,757 875,747 878,737 882,727 890,723 897,717 907,712 920,708 933,703 947,700 960,695 973,688 987,685 1000,680 1007,677 1015,680 1010,687 1000,692 993,697 980,703 970,707 960,712 947,717 937,723 927,730 913,733 900,737 893,733 887,747 883,760 873,763 860,773 855,778"/>
  <polygon points="848,832 857,823 873,822 887,825 897,832 887,837 878,843 860,842 850,837"/>
  <polygon points="900,832 913,825 927,822 942,827 937,835 920,838 903,835"/>
  <ellipse cx="841" cy="792" rx="4" ry="3"/>
  <ellipse cx="830" cy="806" rx="3" ry="3"/>
  <ellipse cx="843" cy="806" rx="5" ry="3"/>
  <ellipse cx="877" cy="772" rx="2" ry="3"/>
 </g>
 <!-- blue layer -->
 <g fill="#3c3cff">
  <polygon points="815,413 827,405 843,397 860,390 877,385 893,378 907,368 920,358 933,345 947,332 960,318 973,305 983,290 993,275 997,262 1003,250 1000,242 1000,228 993,222 977,222 975,215 983,207 997,202 1007,192 1020,185 1033,177 1047,170 1057,162 1067,155 1077,150 1087,148 1103,148 1113,153 1112,165 1107,178 1110,188 1103,198 1100,212 1097,222 1087,228 1073,235 1067,242 1060,248 1053,255 1047,268 1043,278 1040,288 1027,298 1010,308 997,317 983,328 967,338 950,352 933,365 920,375 910,378 897,385 883,390 870,397 857,405 843,410 830,415 820,418"/>
  <polygon points="950,368 957,350 973,343 993,337 1010,331 1017,328 1023,333 1027,347 1023,353 1013,357 1000,360 987,365 973,370 960,372"/>
  <polygon points="965,445 973,435 993,425 1013,417 1033,407 1047,400 1053,405 1047,420 1033,430 1013,435 993,440 977,448"/>
  <ellipse cx="1081" cy="524" rx="5" ry="4"/>
  <polygon points="967,563 977,557 993,550 1007,547 1013,553 1000,562 990,568 983,570 968,571"/>
  <polygon points="893,727 903,720 913,715 927,712 940,707 953,702 967,697 980,692 993,688 1005,683 1007,688 1000,693 987,698 973,703 960,708 947,713 933,720 923,728 913,732 903,728 897,728"/>
  <polygon points="853,833 863,827 875,825 888,832 877,840 860,838"/>
  <ellipse cx="925" cy="832" rx="2" ry="2"/>
 </g>
 <g fill="#2a2af0">
  <polygon points="903,722 917,717 933,712 947,707 960,702 973,695 987,692 990,695 977,700 960,707 947,712 933,717 920,725 910,728"/>
  <polygon points="863,830 875,827 885,833 877,838 865,836"/>
 </g>
 <polygon fill="#6e6eff" points="1040,232 1058,228 1062,238 1052,252 1046,268 1040,280 1036,265 1036,245"/>
 <!-- green layer -->
 <g fill="#72dc00">
  <polygon points="818,413 830,405 847,398 863,391 880,385 897,378 910,368 920,358 933,348 950,335 967,322 980,308 990,295 1000,282 1007,268 1013,255 1015,242 1010,232 1005,223 1010,217 1020,213 1025,207 1025,198 1033,195 1047,192 1060,188 1073,182 1083,175 1090,168 1097,162 1102,162 1107,168 1108,185 1103,193 1093,197 1080,198 1070,202 1057,205 1043,210 1035,218 1032,232 1033,245 1035,258 1038,272 1037,282 1027,292 1013,298 1000,305 987,315 970,325 957,335 940,348 923,362 907,373 893,382 880,388 867,395 853,402 840,407 827,413"/>
  <polygon points="963,362 967,355 983,348 1000,342 1008,340 1015,338 1017,345 1007,350 997,353 980,358 967,366"/>
  <polygon points="973,442 987,432 1003,427 1020,418 1033,412 1035,423 1023,428 1007,430 990,438 977,445"/>
  <ellipse cx="1068" cy="161" rx="8" ry="4"/>
  <ellipse cx="1012" cy="194" rx="5" ry="3"/>
 </g>
 <g fill="#58b000">
  <polygon points="840,410 858,400 875,392 893,384 907,374 920,364 935,352 950,341 965,330 978,319 990,308 1000,296 1008,282 1018,270 1022,282 1012,293 1000,303 985,314 970,324 955,335 940,346 925,358 910,370 895,380 878,389 860,398 845,408"/>
  <polygon points="1080,186 1090,178 1100,172 1104,182 1096,190 1084,192"/>
 </g>
 <g fill="#4a8c1a">
  <polygon points="858,398 875,390 893,383 895,387 878,394 861,401"/>
  <ellipse cx="1097" cy="185" rx="4" ry="4"/>
  <ellipse cx="1017" cy="285" rx="3" ry="3"/>
 </g>
</g>

<!-- gridlines -->
<g stroke="#aaa" stroke-width="1.6" stroke-dasharray="3,7.5" fill="none">
 <path d="M788 404.3H1212M788 667.9H1212M788 931.5H1212M788 1195.1H1212"/>
 <path d="M1000 141V1326"/>
</g>
<path d="M1000 1326V1458" stroke="#999" stroke-width="1.5"/>

<!-- thin lines -->
<g stroke="#333" stroke-width="1.1" fill="none">
 <polyline points="1100,141 1090,170 1080,197 1070,227 1060,257 1050,283 1040,307 1030,330 1020,353 1010,380 1000,407 990,433 980,463 970,493 960,523 953,560 947,600 942,623 937,640 930,667 923,680 913,693 903,713 893,733 883,750 873,767 860,790 853,800 840,817 827,833 810,857 788,887"/>
 <polyline points="1000,1327 940,1458"/>
</g>

<!-- thick borders -->
<g stroke="#000" stroke-width="3" fill="none" stroke-linejoin="round" stroke-linecap="round">
 <polyline points="1021.7,379.3 1060,376.7 1065,376 1070,380 1071.7,386.7 1075,389.3 1090,387.3 1093.3,382.7 1106.7,379.3 1109.3,374 1111.7,366.7 1111,353.3 1112.7,340 1113.3,333.3 1118.3,328.3 1120.7,330 1123.3,338.3 1130,333.3 1140,329.3 1148.3,323.3 1158.3,316.7 1168.3,317.3 1175,321.7 1168.3,330 1170,341.7 1177.3,353.3 1175,360 1173.3,373.3 1179.3,378.3 1181.7,390 1184,406.7 1190,416.7 1186.7,426.7 1181.7,436.7 1176.7,450 1170,460 1160,473.3 1151.7,478.3 1143.3,481.7 1133.3,486.7 1128.3,489.3 1123.3,496.7 1118.3,498.3 1120,513.3 1119.3,530 1121.7,540 1118.3,553.3 1119.3,566.7 1120,576.7 1121.7,610 1118.3,626.7 1115,643.3 1111.7,660 1113.3,676.7 1115,693.3 1115,710 1116.7,726.7 1118.3,731.7 1113.3,740 1106.7,753.3 1103.3,766.7 1100,786.7 1099.3,806.7 1100,826.7 1096.7,836.7 1090,846.7 1085,860 1084.3,870 1090,878.3 1095,886.7 1097.3,893.3 1096.7,906.7 1093.3,913.3 1090,920 1090,933.3 1088.3,943.3 1080,950 1075,955 1071.7,960 1070,970 1071.7,976.7 1065,983.3 1061.7,993.3 1061.7,1000 1058.3,1006.7 1053.3,1020 1053.3,1023.3 1050,1030 1046.7,1033.3 1043.3,1040 1041.7,1050 1038.3,1063.3 1035,1076.7 1032.7,1085 1035,1090 1036.7,1093.3 1038.3,1100 1036,1106.7 1033.3,1113.3 1033.3,1126.7 1032,1133.3 1034,1143.3 1036,1153.3 1036,1160 1033.3,1166.7 1030,1178.3 1026,1180 1024,1186.7 1023.3,1193.3 1019.3,1196.7 1016.7,1205 1017.7,1213.3 1016.7,1233.3 1011.7,1250 1006.7,1263.3 1005,1266.7 1005,1286.7 1000,1296.7 996.7,1303.3 995,1310 994,1316 990.7,1315 988.3,1318.3 985,1323.3 979.3,1330 978.3,1323.3 975,1316.7 973.3,1306.7 970,1300 972.7,1296.7 973.3,1288.3 970,1283.3 969.3,1266.7 966.7,1250 956.7,1220 946.7,1186.7 936.7,1153.3 926.7,1126.7 920,1105 916.7,1096.7 911.7,1091.7 905,1089.3 900.7,1086.7 901.7,1073.3 904,1066.7 898.3,1056.7 893.3,1050 894,1043.3 897.3,1038.3 895,1026.7 893.3,1016.7 883.3,990 873.3,970 866.7,950 860,926.7 853.3,903.3 846.7,880 841.7,860 838.3,851.7 833.3,846"/>
 <polyline points="979.3,1330 973,1331 970,1334"/>
</g>

<!-- city dots -->
<g fill="#000">
 <circle cx="1121.7" cy="351.7" r="4.3"/><circle cx="1021" cy="404.3" r="4.3"/><circle cx="1106" cy="411.3" r="4.3"/><circle cx="999.3" cy="457.3" r="4.3"/>
 <circle cx="1063.3" cy="510" r="4.3"/><circle cx="989" cy="516.3" r="4.3"/><circle cx="1106" cy="536" r="4.3"/><circle cx="967.7" cy="582.7" r="4.3"/>
 <circle cx="952.3" cy="648.3" r="4.3"/><circle cx="999.7" cy="694.3" r="4.3"/><circle cx="925.7" cy="720.7" r="4.3"/><circle cx="1042.3" cy="727.3" r="4.3"/>
 <circle cx="952.3" cy="773.3" r="4.3"/><circle cx="893.7" cy="819.3" r="4.3"/><circle cx="957.7" cy="872.3" r="4.3"/><circle cx="957.3" cy="1037.3" r="4.3"/>
</g>

<text x="973" y="306.7" font-size="37" font-family="DejaVu Sans" font-weight="200" textLength="68" lengthAdjust="spacingAndGlyphs" fill="#000" style="font-family:'DejaVu Sans','Liberation Sans',sans-serif">13.6</text>

<!-- frame -->
<rect x="788" y="141" width="424" height="1317" fill="none" stroke="#000" stroke-width="2"/>
<g stroke="#000" stroke-width="1.5">
 <path d="M779 141H788M779 404.3H788M779 667.9H788M779 931.5H788M779 1195.1H788M779 1458H788"/>
 <path d="M788 1458V1464M1000 1458V1464M1212 1458V1464"/>
</g>
<g class="ml">
 <text x="773" y="149.5" text-anchor="end" textLength="37" lengthAdjust="spacingAndGlyphs">34N</text>
 <text x="773" y="412.8" text-anchor="end" textLength="37" lengthAdjust="spacingAndGlyphs">33N</text>
 <text x="773" y="676.4" text-anchor="end" textLength="37" lengthAdjust="spacingAndGlyphs">32N</text>
 <text x="773" y="940" text-anchor="end" textLength="37" lengthAdjust="spacingAndGlyphs">31N</text>
 <text x="773" y="1203.6" text-anchor="end" textLength="37" lengthAdjust="spacingAndGlyphs">30N</text>
 <text x="773" y="1466.5" text-anchor="end" textLength="37" lengthAdjust="spacingAndGlyphs">29N</text>
 <text x="788" y="1488" text-anchor="middle" textLength="37" lengthAdjust="spacingAndGlyphs">34E</text>
 <text x="1000" y="1488" text-anchor="middle" textLength="37" lengthAdjust="spacingAndGlyphs">35E</text>
 <text x="1212" y="1488" text-anchor="middle" textLength="37" lengthAdjust="spacingAndGlyphs">36E</text>
</g>
</svg>
</body></html>
